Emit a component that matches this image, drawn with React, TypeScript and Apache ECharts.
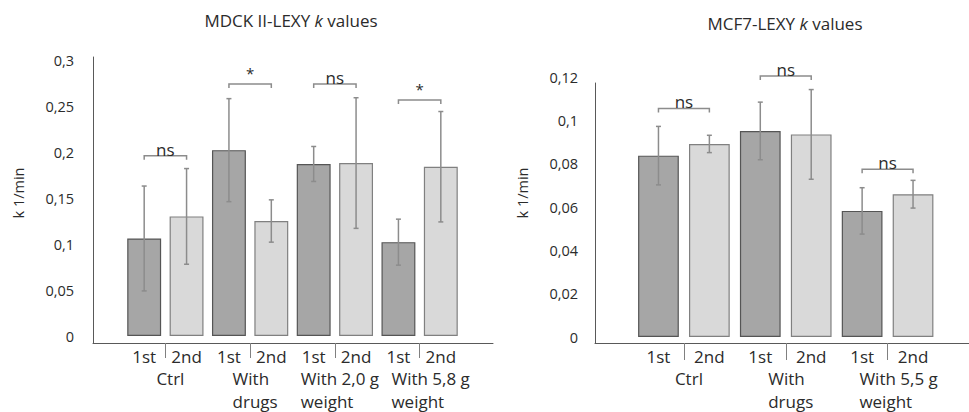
import React, { useEffect, useRef } from 'react';
import * as echarts from 'echarts';

// ---------- data ----------
const leftTitle = 'MDCK II-LEXY {i|k} values';
const leftBarLabels = ['1st', '2nd', '1st', '2nd', '1st', '2nd', '1st', '2nd'];
const leftGroups = ['Ctrl', 'With\ndrugs', 'With 2,0 g\nweight', 'With 5,8 g\nweight'];
const leftMeans = [0.106, 0.130, 0.202, 0.125, 0.187, 0.188, 0.102, 0.184];
const leftErrors = [0.057, 0.052, 0.056, 0.023, 0.019, 0.071, 0.025, 0.060];
const leftSigLabels = ['ns', '*', 'ns', '*'];
const leftSigHeights = [0.196, 0.274, 0.274, 0.2565];
const leftYMax = 0.3;
const leftYStep = 0.05;

const rightTitle = 'MCF7-LEXY {i|k} values';
const rightBarLabels = ['1st', '2nd', '1st', '2nd', '1st', '2nd'];
const rightGroups = ['Ctrl', 'With\ndrugs', 'With 5,5 g\nweight'];
const rightMeans = [0.0837, 0.0891, 0.0951, 0.0935, 0.0582, 0.0659];
const rightErrors = [0.0135, 0.004, 0.0133, 0.0207, 0.0107, 0.0064];
const rightSigLabels = ['ns', 'ns', 'ns'];
const rightSigHeights = [0.1055, 0.1205, 0.0774];
const rightYMax = 0.12;
const rightYStep = 0.02;

const yAxisName = 'k 1/min';

// ---------- styles ----------
const FONT = '"Open Sans", "Noto Sans", sans-serif';
const TEXT = '#2b2b2b';
const AXIS = '#595959';
const ERR = '#8c8c8c';
const DARK_FILL = '#a6a6a6';
const DARK_BORDER = '#555555';
const LIGHT_FILL = '#d9d9d9';
const LIGHT_BORDER = '#808080';

type Panel = {
  barLabels: string[];
  groups: string[];
  means: number[];
  errors: number[];
  sigLabels: string[];
  sigHeights: number[];
  yMax: number;
  yStep: number;
  main: { left: number; top: number; width: number; height: number };
  deco: { left: number; top: number; width: number; height: number };
  yOffset: number;
  yLabelMargin: number;
  xOffset: number;
  tickLen: number;
};

const fmt = (v: number) => (v === 0 ? '0' : String(+v.toFixed(3)).replace('.', ','));

function buildPanel(p: Panel, k: number) {
  const gMain = k * 2;
  const gDeco = k * 2 + 1;
  const xMain = k * 3;
  const yMain = k * 2;

  const grids = [
    { ...p.main, containLabel: false },
    { ...p.deco, containLabel: false },
  ];

  const lastGroup = p.groups.length - 1;

  const xAxes = [
    {
      type: 'category',
      gridIndex: gMain,
      data: p.barLabels,
      position: 'bottom',
      offset: p.xOffset,
      axisLine: { show: false },
      axisTick: { show: false },
      axisLabel: { margin: 5, fontSize: 17, fontFamily: FONT, color: TEXT, interval: 0 },
      splitLine: { show: false },
    },
    {
      type: 'category',
      gridIndex: gMain,
      data: p.groups.map((g, i) =>
        i === lastGroup && i > 0 ? { value: g, textStyle: { padding: [0, 0, 0, 22] } } : g
      ),
      position: 'bottom',
      offset: p.xOffset,
      axisLine: { show: false },
      axisTick: {
        show: true,
        alignWithLabel: true,
        length: p.tickLen,
        lineStyle: { color: '#808080', width: 1 },
      },
      axisLabel: {
        margin: 24,
        interval: 0,
        padding: [0, 0, 0, 10],
        formatter: (v: string) => v.split('\n').map((s) => `{l|${s}}`).join('\n'),
        rich: {
          l: { align: 'left', fontSize: 17, fontFamily: FONT, color: TEXT, lineHeight: 23 },
        },
      },
      splitLine: { show: false },
    },
    {
      type: 'value',
      gridIndex: gDeco,
      axisLine: { show: true, onZero: false, lineStyle: { color: AXIS, width: 1 } },
      axisTick: { show: false },
      axisLabel: { show: false },
      splitLine: { show: false },
    },
  ];

  const yAxes = [
    {
      type: 'value',
      gridIndex: gMain,
      min: 0,
      max: p.yMax,
      interval: p.yStep,
      offset: p.yOffset,
      axisLine: { show: false },
      axisTick: { show: false },
      splitLine: { show: false },
      axisLabel: {
        margin: p.yLabelMargin,
        fontSize: 14.5,
        fontFamily: FONT,
        color: TEXT,
        formatter: fmt,
      },
    },
    {
      type: 'value',
      gridIndex: gDeco,
      axisLine: { show: true, onZero: false, lineStyle: { color: AXIS, width: 1 } },
      axisTick: { show: false },
      axisLabel: { show: false },
      splitLine: { show: false },
    },
  ];

  const series: any[] = [
    {
      type: 'bar',
      xAxisIndex: xMain,
      yAxisIndex: yMain,
      barCategoryGap: '20%',
      data: p.means.map((v, i) => ({
        value: v,
        itemStyle: {
          color: i % 2 === 0 ? DARK_FILL : LIGHT_FILL,
          borderColor: i % 2 === 0 ? DARK_BORDER : LIGHT_BORDER,
          borderWidth: 1.2,
        },
      })),
    },
    {
      type: 'custom',
      xAxisIndex: xMain,
      yAxisIndex: yMain,
      data: p.means.map((v, i) => [i, v - p.errors[i], v + p.errors[i]]),
      renderItem: (params: any, api: any) => {
        const x = api.value(0);
        const lo = api.coord([x, api.value(1)]);
        const hi = api.coord([x, api.value(2)]);
        const c = 2.5;
        const style = { stroke: ERR, lineWidth: 1.5 };
        return {
          type: 'group',
          children: [
            { type: 'line', shape: { x1: lo[0], y1: lo[1], x2: hi[0], y2: hi[1] }, style },
            { type: 'line', shape: { x1: hi[0] - c, y1: hi[1], x2: hi[0] + c, y2: hi[1] }, style },
            { type: 'line', shape: { x1: lo[0] - c, y1: lo[1], x2: lo[0] + c, y2: lo[1] }, style },
          ],
        };
      },
      z: 3,
    },
    {
      type: 'custom',
      xAxisIndex: xMain,
      yAxisIndex: yMain,
      data: p.sigHeights.map((h, g) => [2 * g, h]),
      renderItem: (params: any, api: any) => {
        const g = api.value(0);
        const h = api.value(1);
        const a = api.coord([g, h]);
        const b = api.coord([g + 1, h]);
        const label = p.sigLabels[params.dataIndex];
        const star = label === '*';
        return {
          type: 'group',
          children: [
            {
              type: 'polyline',
              shape: { points: [[a[0], a[1] + 4], [a[0], a[1]], [b[0], b[1]], [b[0], b[1] + 4]] },
              style: { stroke: ERR, lineWidth: 1.5, fill: 'none' },
            },
            {
              type: 'text',
              x: (a[0] + b[0]) / 2,
              y: star ? a[1] - 11 : a[1] + 2,
              style: {
                text: label,
                fill: TEXT,
                fontSize: star ? 15 : 17,
                fontFamily: FONT,
                align: 'center',
                verticalAlign: star ? 'middle' : 'bottom',
              },
            },
          ],
        };
      },
      z: 4,
    },
  ];

  return { grids, xAxes, yAxes, series };
}

const leftPanel: Panel = {
  barLabels: leftBarLabels,
  groups: leftGroups,
  means: leftMeans,
  errors: leftErrors,
  sigLabels: leftSigLabels,
  sigHeights: leftSigHeights,
  yMax: leftYMax,
  yStep: leftYStep,
  main: { left: 123, top: 60, width: 339, height: 276 },
  deco: { left: 93, top: 57, width: 400, height: 286 },
  yOffset: 30,
  yLabelMargin: 19,
  xOffset: 7,
  tickLen: 15,
};

const rightPanel: Panel = {
  barLabels: rightBarLabels,
  groups: rightGroups,
  means: rightMeans,
  errors: rightErrors,
  sigLabels: rightSigLabels,
  sigHeights: rightSigHeights,
  yMax: rightYMax,
  yStep: rightYStep,
  main: { left: 633, top: 77, width: 305.5, height: 260 },
  deco: { left: 595, top: 83, width: 374, height: 260 },
  yOffset: 38,
  yLabelMargin: 17,
  xOffset: 6,
  tickLen: 17,
};

export default function App() {
  const ref = useRef<HTMLDivElement>(null);

  useEffect(() => {
    if (!ref.current) return;
    const chart = echarts.init(ref.current, undefined, { renderer: 'svg' });
    const L = buildPanel(leftPanel, 0);
    const R = buildPanel(rightPanel, 1);

    const titleStyle = (text: string, x: number, y: number) => ({
      type: 'text',
      x,
      y,
      style: {
        text,
        fill: TEXT,
        fontSize: 17,
        fontFamily: FONT,
        align: 'center',
        verticalAlign: 'middle',
        rich: { i: { fontStyle: 'italic', fontSize: 17, fontFamily: FONT, fill: TEXT } },
      },
    });
    const axisNameStyle = (x: number, y: number) => ({
      type: 'text',
      x,
      y,
      rotation: Math.PI / 2,
      style: {
        text: yAxisName,
        fill: TEXT,
        fontSize: 14.5,
        fontFamily: FONT,
        align: 'center',
        verticalAlign: 'middle',
      },
    });

    chart.setOption({
      animation: false,
      backgroundColor: '#ffffff',
      grid: [...L.grids, ...R.grids],
      xAxis: [...L.xAxes, ...R.xAxes],
      yAxis: [...L.yAxes, ...R.yAxes],
      series: [...L.series, ...R.series],
      graphic: [
        titleStyle(leftTitle, 291, 20),
        titleStyle(rightTitle, 785, 23),
        axisNameStyle(18, 193),
        axisNameStyle(522, 193),
      ],
    });
    return () => chart.dispose();
  }, []);

  return (
    <div
      ref={ref}
      style={{ position: 'fixed', left: 0, top: 0, width: 969, height: 412, background: '#fff' }}
    />
  );
}
